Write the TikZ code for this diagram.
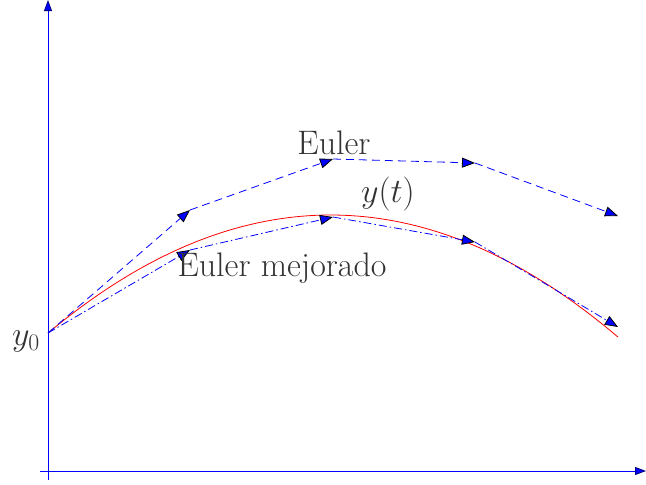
\RequirePackage{fix-cm}
\documentclass[tikz,border=0pt]{standalone}
\usepackage{amsmath}
\usepackage{xcolor}
\usetikzlibrary{arrows.meta}
\definecolor{txtgrey}{HTML}{333333}
\definecolor{axisdark}{HTML}{00007F}

\begin{document}
\begin{tikzpicture}[x=1pt,y=-1pt,
  axis/.style={blue,line width=0.8pt,-{Triangle[length=11pt,width=8pt,fill=blue,color=axisdark]}},
  stepe/.style={blue,line width=0.8pt,dash pattern=on 8pt off 5pt,
    -{Triangle[length=13pt,width=10pt,fill=blue,color=black]}},
  stepm/.style={blue,line width=0.8pt,dash pattern=on 8pt off 3pt on 1.5pt off 3pt,
    -{Triangle[length=13pt,width=10pt,fill=blue,color=black]}},
  lbl/.style={text=txtgrey,font=\fontsize{34}{40}\selectfont,inner sep=0pt}]
  \useasboundingbox (0,0) rectangle (646,485);

  % axes
  \coordinate (xa) at (40,471);
  \coordinate (xb) at (646,471);
  \coordinate (ya) at (48,480);
  \coordinate (yb) at (48,0);
  \draw[axis] (xa) -- (xb);
  \draw[axis] (ya) -- (yb);

  % exact solution
  \draw[red,line width=0.8pt] plot[domain=48:618,samples=80]
    (\x,{215+14.78*((\x-330.6)/100)^2});

  % Euler and improved Euler steps
  \coordinate (e0) at (48,333);
  \coordinate (m0) at (48,333);
  \foreach \n/\x/\ye/\ym in {1/190/210/250, 2/333/159/217, 3/475/163/242, 4/618/216/327} {
    \coordinate (e\n) at (\x,\ye);
    \coordinate (m\n) at (\x,\ym);
  }
  \foreach \p/\n in {0/1, 1/2, 2/3, 3/4} {
    \draw[stepe] (e\p) -- (e\n);
    \draw[stepm] (m\p) -- (m\n);
  }

  \node[lbl] (euler) at (334,143) {Euler};
  \node[lbl] (yt) at (388,194) {$y(t)$};
  \node[lbl] (mejor) at (282,268) {Euler mejorado};
  \node[lbl] (y0) at (26,341) {$y_0$};
\end{tikzpicture}
\end{document}
